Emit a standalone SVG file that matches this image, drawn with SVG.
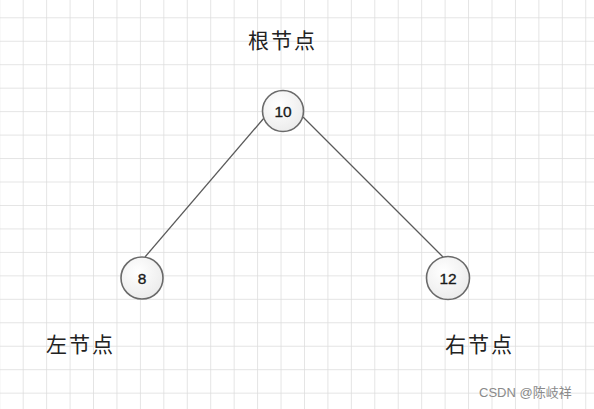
<svg xmlns="http://www.w3.org/2000/svg" width="594" height="409" viewBox="0 0 594 409">
<defs>
<pattern id="grid" x="22.7" y="17.3" width="23.44" height="23.46" patternUnits="userSpaceOnUse">
<path d="M0 0V23.46M0 0H23.44" fill="none" stroke="#dcdcdc" stroke-width="1.5"/>
</pattern>
<radialGradient id="nf" cx="0.4" cy="0.35" r="0.7">
<stop offset="0" stop-color="#ffffff"/>
<stop offset="1" stop-color="#ebebeb"/>
</radialGradient>
<style>
.node circle{fill:url(#nf);stroke:#6a6a6a;stroke-width:1.6}
.node text{font-family:"Liberation Sans",Arial,sans-serif;font-size:15.5px;fill:#1a1a1a;stroke:#1a1a1a;stroke-width:0.35;text-anchor:middle}
.lbl{font-family:"Liberation Serif","Noto Sans CJK SC",serif;font-size:21px;letter-spacing:2px;fill:#222}
.edge{stroke:#5a5a5a;stroke-width:1.3;fill:none}
.wm{font-family:"Liberation Sans","Noto Sans CJK SC",sans-serif;font-size:13px;fill:#8a8a8a}
</style>
</defs>
<rect width="594" height="409" fill="#ffffff"/>
<rect width="594" height="409" fill="url(#grid)"/>
<g id="connectors">
<line class="edge" x1="264" y1="118" x2="145" y2="257"/>
<line class="edge" x1="303" y1="117" x2="443" y2="257"/>
</g>
<g id="node-10" class="node">
<circle cx="283" cy="111" r="20.5"/>
<text x="283" y="116.5">10</text>
</g>
<g id="node-8" class="node">
<circle cx="142" cy="278" r="21"/>
<text x="142" y="283.5">8</text>
</g>
<g id="node-12" class="node">
<circle cx="448" cy="278" r="21.5"/>
<text x="448" y="283.5">12</text>
</g>
<text class="lbl" x="248" y="48">根节点</text>
<text class="lbl" x="46" y="352">左节点</text>
<text class="lbl" x="445" y="352">右节点</text>
<text class="wm" x="479" y="397">CSDN @陈岐祥</text>
</svg>
